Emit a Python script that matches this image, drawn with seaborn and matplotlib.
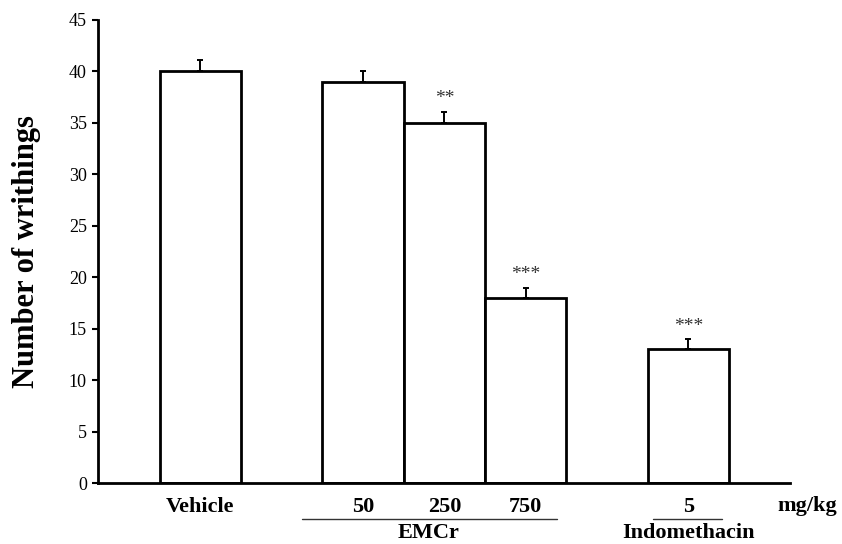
import matplotlib
matplotlib.use('Agg')
import matplotlib.pyplot as plt
import seaborn as sns
import pandas as pd
import numpy as np

# Данные
groups = ['Vehicle', '50', '250', '750', '5']
writhings = [40, 39, 35, 18, 13]
sem = [1.1, 1.0, 1.1, 1.0, 1.0]
stars = ['', '', '**', '***', '***']
slot_order = ['Vehicle', 'gap1', '50', '250', '750', 'gap2', '5']

sns.set_style('white')
plt.rcParams['font.family'] = ['Liberation Serif', 'DejaVu Serif']
plt.rcParams['text.color'] = 'black'
plt.rcParams['axes.labelcolor'] = 'black'
plt.rcParams['xtick.color'] = 'black'
plt.rcParams['ytick.color'] = 'black'

df = pd.DataFrame({'group': groups, 'writhings': writhings})
xpos = [slot_order.index(g) for g in groups]

fig = plt.figure(figsize=(8.42, 5.44), dpi=100)
ax = fig.add_axes([98 / 842, 1 - 483 / 544, (790 - 98) / 842, (483 - 20) / 544])

sns.barplot(data=df, x='group', y='writhings', order=slot_order, width=1,
            color='white', edgecolor='black', linewidth=2.0, errorbar=None,
            saturation=1, ax=ax)

# Планки погрешностей (только вверх)
ax.errorbar(xpos, writhings, yerr=[np.zeros(len(sem)), sem], fmt='none',
            ecolor='black', elinewidth=1.4, capsize=2.5, capthick=1.4, zorder=3)

# Звёздочки значимости
for x, y, e, s in zip(xpos, writhings, sem, stars):
    if s:
        ax.annotate(s, (x, y + e), xytext=(0, 3), textcoords='offset points',
                    ha='center', va='bottom', fontsize=14, color='#333333')

ax.set_xlim(-1.26, 7.25)
ax.set_ylim(0, 45)
ax.set_yticks(range(0, 50, 5))
ax.tick_params(axis='y', direction='out', length=4, width=1.5, pad=4,
               labelsize=13, left=True)
ax.set_xticks(xpos)
ax.set_xticklabels(groups, fontsize=16, fontweight='bold')
ax.tick_params(axis='x', length=0, pad=10)
ax.set_xlabel('')
ax.set_ylabel('Number of writhings', fontsize=22, fontweight='bold')
ax.yaxis.set_label_coords(-0.082, 0.5)

sns.despine(ax=ax)
for side in ['left', 'bottom']:
    ax.spines[side].set_linewidth(2.0)
    ax.spines[side].set_color('black')

# Подписи групп под осью
tr = ax.get_xaxis_transform()
ax.text(7.09, -0.05, 'mg/kg', transform=tr, ha='left', va='center',
        fontsize=16, fontweight='bold')
ax.plot([1.25, 4.38], [-0.078, -0.078], transform=tr, clip_on=False,
        color='#333333', lw=1)
ax.plot([5.56, 6.41], [-0.078, -0.078], transform=tr, clip_on=False,
        color='#333333', lw=1)
ax.text(2.8, -0.108, 'EMCr', transform=tr, ha='center', va='center',
        fontsize=16, fontweight='bold')
ax.text(6.0, -0.108, 'Indomethacin', transform=tr, ha='center', va='center',
        fontsize=16, fontweight='bold')

plt.savefig('out.png', dpi=100)
plt.close()
